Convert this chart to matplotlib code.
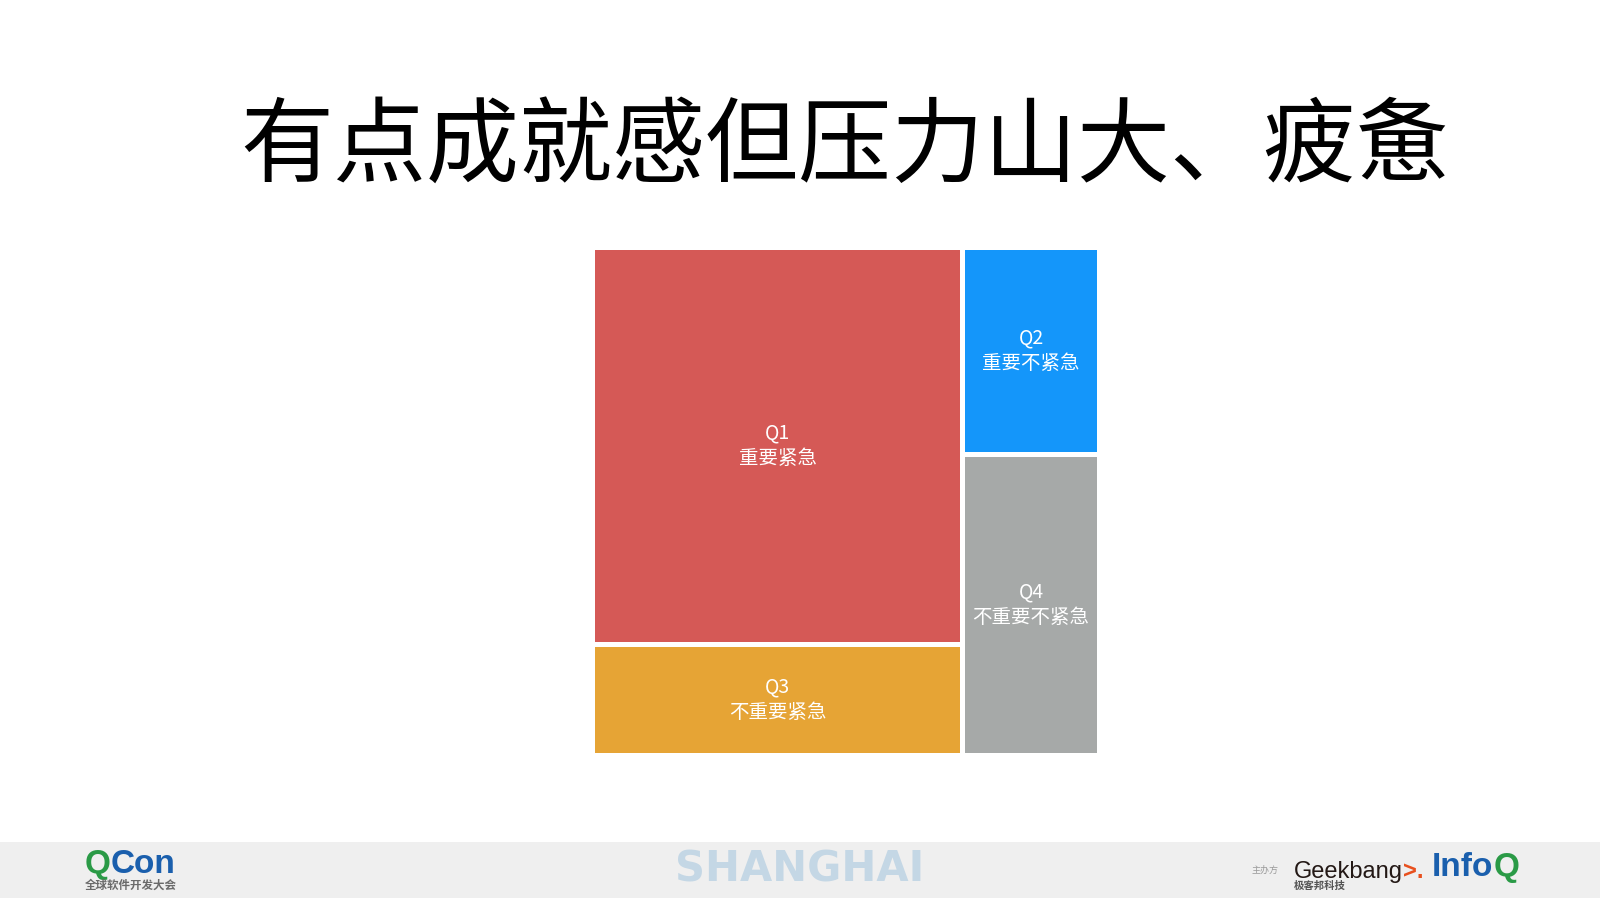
import matplotlib
matplotlib.use("Agg")
import matplotlib.pyplot as plt
from matplotlib.patches import Rectangle

plt.rcParams['font.family'] = ['Noto Sans CJK SC', 'DejaVu Sans']

# 数据
title = "有点成就感但压力山大、疲惫"
codes = ["Q1", "Q2", "Q3", "Q4"]
names = ["重要紧急", "重要不紧急", "不重要紧急", "不重要不紧急"]
values = [57, 11, 16, 16]
colors = ["#d55956", "#1496fa", "#e6a435", "#a6a9a8"]
columns = [[0, 2], [1, 3]]   # 左列 Q1/Q3, 右列 Q2/Q4

fig = plt.figure(figsize=(16, 9), dpi=100)

# 背景层(页脚)
bg = fig.add_axes([0, 0, 1, 1])
bg.set_xlim(0, 1)
bg.set_ylim(0, 1)
bg.axis('off')
bg.add_patch(Rectangle((0, 2 / 900), 1, (898 - 842) / 900, color="#efefef", lw=0))

# 标题
fig.text(0.528, 0.836, title, fontsize=67, ha='center', va='center', color='black')

# 矩形树图
ax = fig.add_axes([592.5 / 1600, 1 - 755.5 / 900, 507 / 1600, 508 / 900])
ax.set_xlim(0, 100)
ax.set_ylim(0, 100)
ax.axis('off')
total = sum(values)
gx = 2.5 / 507 * 100
gy = 2.5 / 508 * 100
x0 = 0
for col in columns:
    colsum = sum(values[i] for i in col)
    w = colsum / total * 100
    ytop = 100
    for i in col:
        h = values[i] / colsum * 100
        ax.add_patch(Rectangle((x0 + gx, ytop - h + gy), w - 2 * gx, h - 2 * gy,
                               facecolor=colors[i], edgecolor='none'))
        ax.text(x0 + w / 2, ytop - h / 2, codes[i] + "\n" + names[i],
                ha='center', va='center', color='white', fontsize=14,
                fontweight='light', linespacing=1.3)
        ytop -= h
    x0 += w

# 页脚 logo 文字
def chain(prev, s, color, **kw):
    return bg.annotate(s, xy=(1, 0), xycoords=prev, va='bottom', ha='left',
                       color=color, **kw)

q = bg.text(85 / 1600, 1 - 880 / 900, "Q", fontsize=24, fontweight='bold',
            color="#2a9a46", family='Liberation Sans', va='bottom')
chain(q, "Con", "#1a5fad", fontsize=24, fontweight='bold', family='Liberation Sans')
bg.text(85 / 1600, 1 - 885 / 900, "全球软件开发大会", fontsize=8.3, fontweight='bold',
        color="#6a6a6a", va='center')

bg.text(800 / 1600, 1 - 870 / 900, "SHANGHAI", fontsize=30, fontweight='bold',
        family='DejaVu Sans', color="#c4d7e5", ha='center', va='center')

bg.text(1252 / 1600, 1 - 870 / 900, "主办方", fontsize=6.5, color="#999999", va='center')
g = bg.text(1294 / 1600, 1 - 883 / 900, "Geekbang", fontsize=17, family='Liberation Sans',
            color="#231815", va='bottom')
chain(g, ">.", "#e8501e", fontsize=17, family='Liberation Sans', fontweight='bold')
bg.text(1294 / 1600, 1 - 886 / 900, "极客邦科技", fontsize=7.5, fontweight='bold',
        color="#555555", va='center')
inf = bg.text(1432 / 1600, 1 - 883 / 900, "Info", fontsize=24, fontweight='bold',
              family='Liberation Sans', color="#1a5fad", va='bottom')
chain(inf, "Q", "#2a9a46", fontsize=24, fontweight='bold', family='Liberation Sans')

fig.savefig("out.png", dpi=100, facecolor='white')
